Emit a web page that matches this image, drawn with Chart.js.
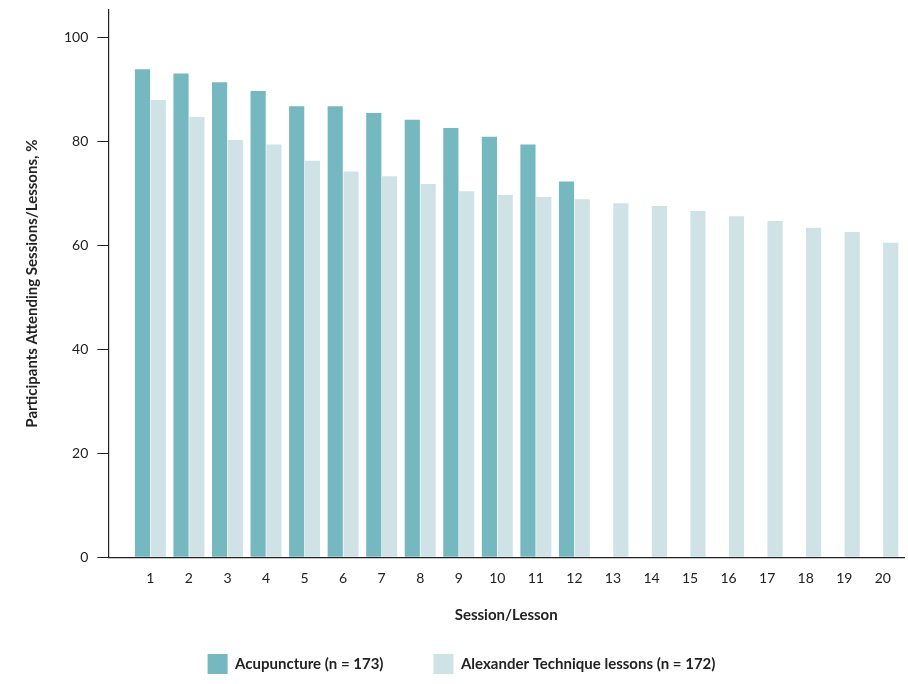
<!DOCTYPE html>
<html>
<head>
<meta charset="utf-8">
<script src="https://cdn.jsdelivr.net/npm/chart.js@4"></script>
<style>
  body { margin: 0; background: #fff; }
  #wrap { width: 908px; height: 684px; }
</style>
</head>
<body>
<div id="wrap"><canvas id="grafico"></canvas></div>
<script>
const sessoes = [1, 2, 3, 4, 5, 6, 7, 8, 9, 10, 11, 12, 13, 14, 15, 16, 17, 18, 19, 20]
const acupuntura = [93.9, 93.1, 91.4, 89.7, 86.8, 86.8, 85.5, 84.2, 82.6, 80.9, 79.4, 72.3]
const alexander = [88.0, 84.7, 80.3, 79.4, 76.3, 74.2, 73.3, 71.8, 70.4, 69.7, 69.3, 68.9, 68.1, 67.6, 66.6, 65.6, 64.7, 63.4, 62.6, 60.5]
const yTicks = [0, 20, 40, 60, 80, 100]

const fonte = "Lato, 'Open Sans', sans-serif"
Chart.defaults.font.family = fonte
Chart.defaults.color = "#222"

new Chart(document.getElementById("grafico"), {
  type: "bar",
  data: {
    datasets: [
      {
        label: "Acupuncture (n = 173)",
        data: acupuntura.map((v, i) => ({ x: sessoes[i], y: v })),
        backgroundColor: "#76b8bf"
      },
      {
        label: "Alexander Technique lessons (n = 172)",
        data: alexander.map((v, i) => ({ x: sessoes[i], y: v })),
        backgroundColor: "#cfe3e7"
      }
    ]
  },
  options: {
    responsive: true,
    maintainAspectRatio: false,
    animation: false,
    categoryPercentage: 0.82,
    barPercentage: 0.96,
    layout: { padding: { top: 10, right: 4, left: 19, bottom: 0 } },
    plugins: {
      tooltip: { enabled: false },
      legend: {
        position: "bottom",
        labels: {
          boxWidth: 20, boxHeight: 20, padding: 50,
          font: { size: 15, weight: "bold" }, color: "#222"
        }
      }
    },
    scales: {
      x: {
        type: "linear",
        offset: false,
        min: -0.09,
        max: 20.55,
        afterBuildTicks: (s) => { s.ticks = sessoes.map((v) => ({ value: v })) },
        grid: { display: false },
        border: { color: "#222", width: 1.2 },
        ticks: { font: { size: 14 }, color: "#222", padding: 5 },
        title: { display: true, text: "Session/Lesson", font: { size: 15, weight: "bold" }, color: "#222", padding: { top: 14, bottom: -20 } }
      },
      y: {
        min: 0,
        max: 105.3,
        afterBuildTicks: (s) => { s.ticks = yTicks.map((v) => ({ value: v })) },
        afterFit: (s) => { s.paddingTop = 0 },
        grid: { drawOnChartArea: false, tickLength: 11, color: "#222" },
        border: { color: "#222", width: 1.2 },
        ticks: { font: { size: 14 }, color: "#222", padding: 9 },
        title: {
          display: true, text: "Participants Attending Sessions/Lessons, %",
          font: { size: 15, weight: "bold" }, color: "#222", padding: { bottom: 14 }
        }
      }
    }
  }
})
</script>
</body>
</html>
